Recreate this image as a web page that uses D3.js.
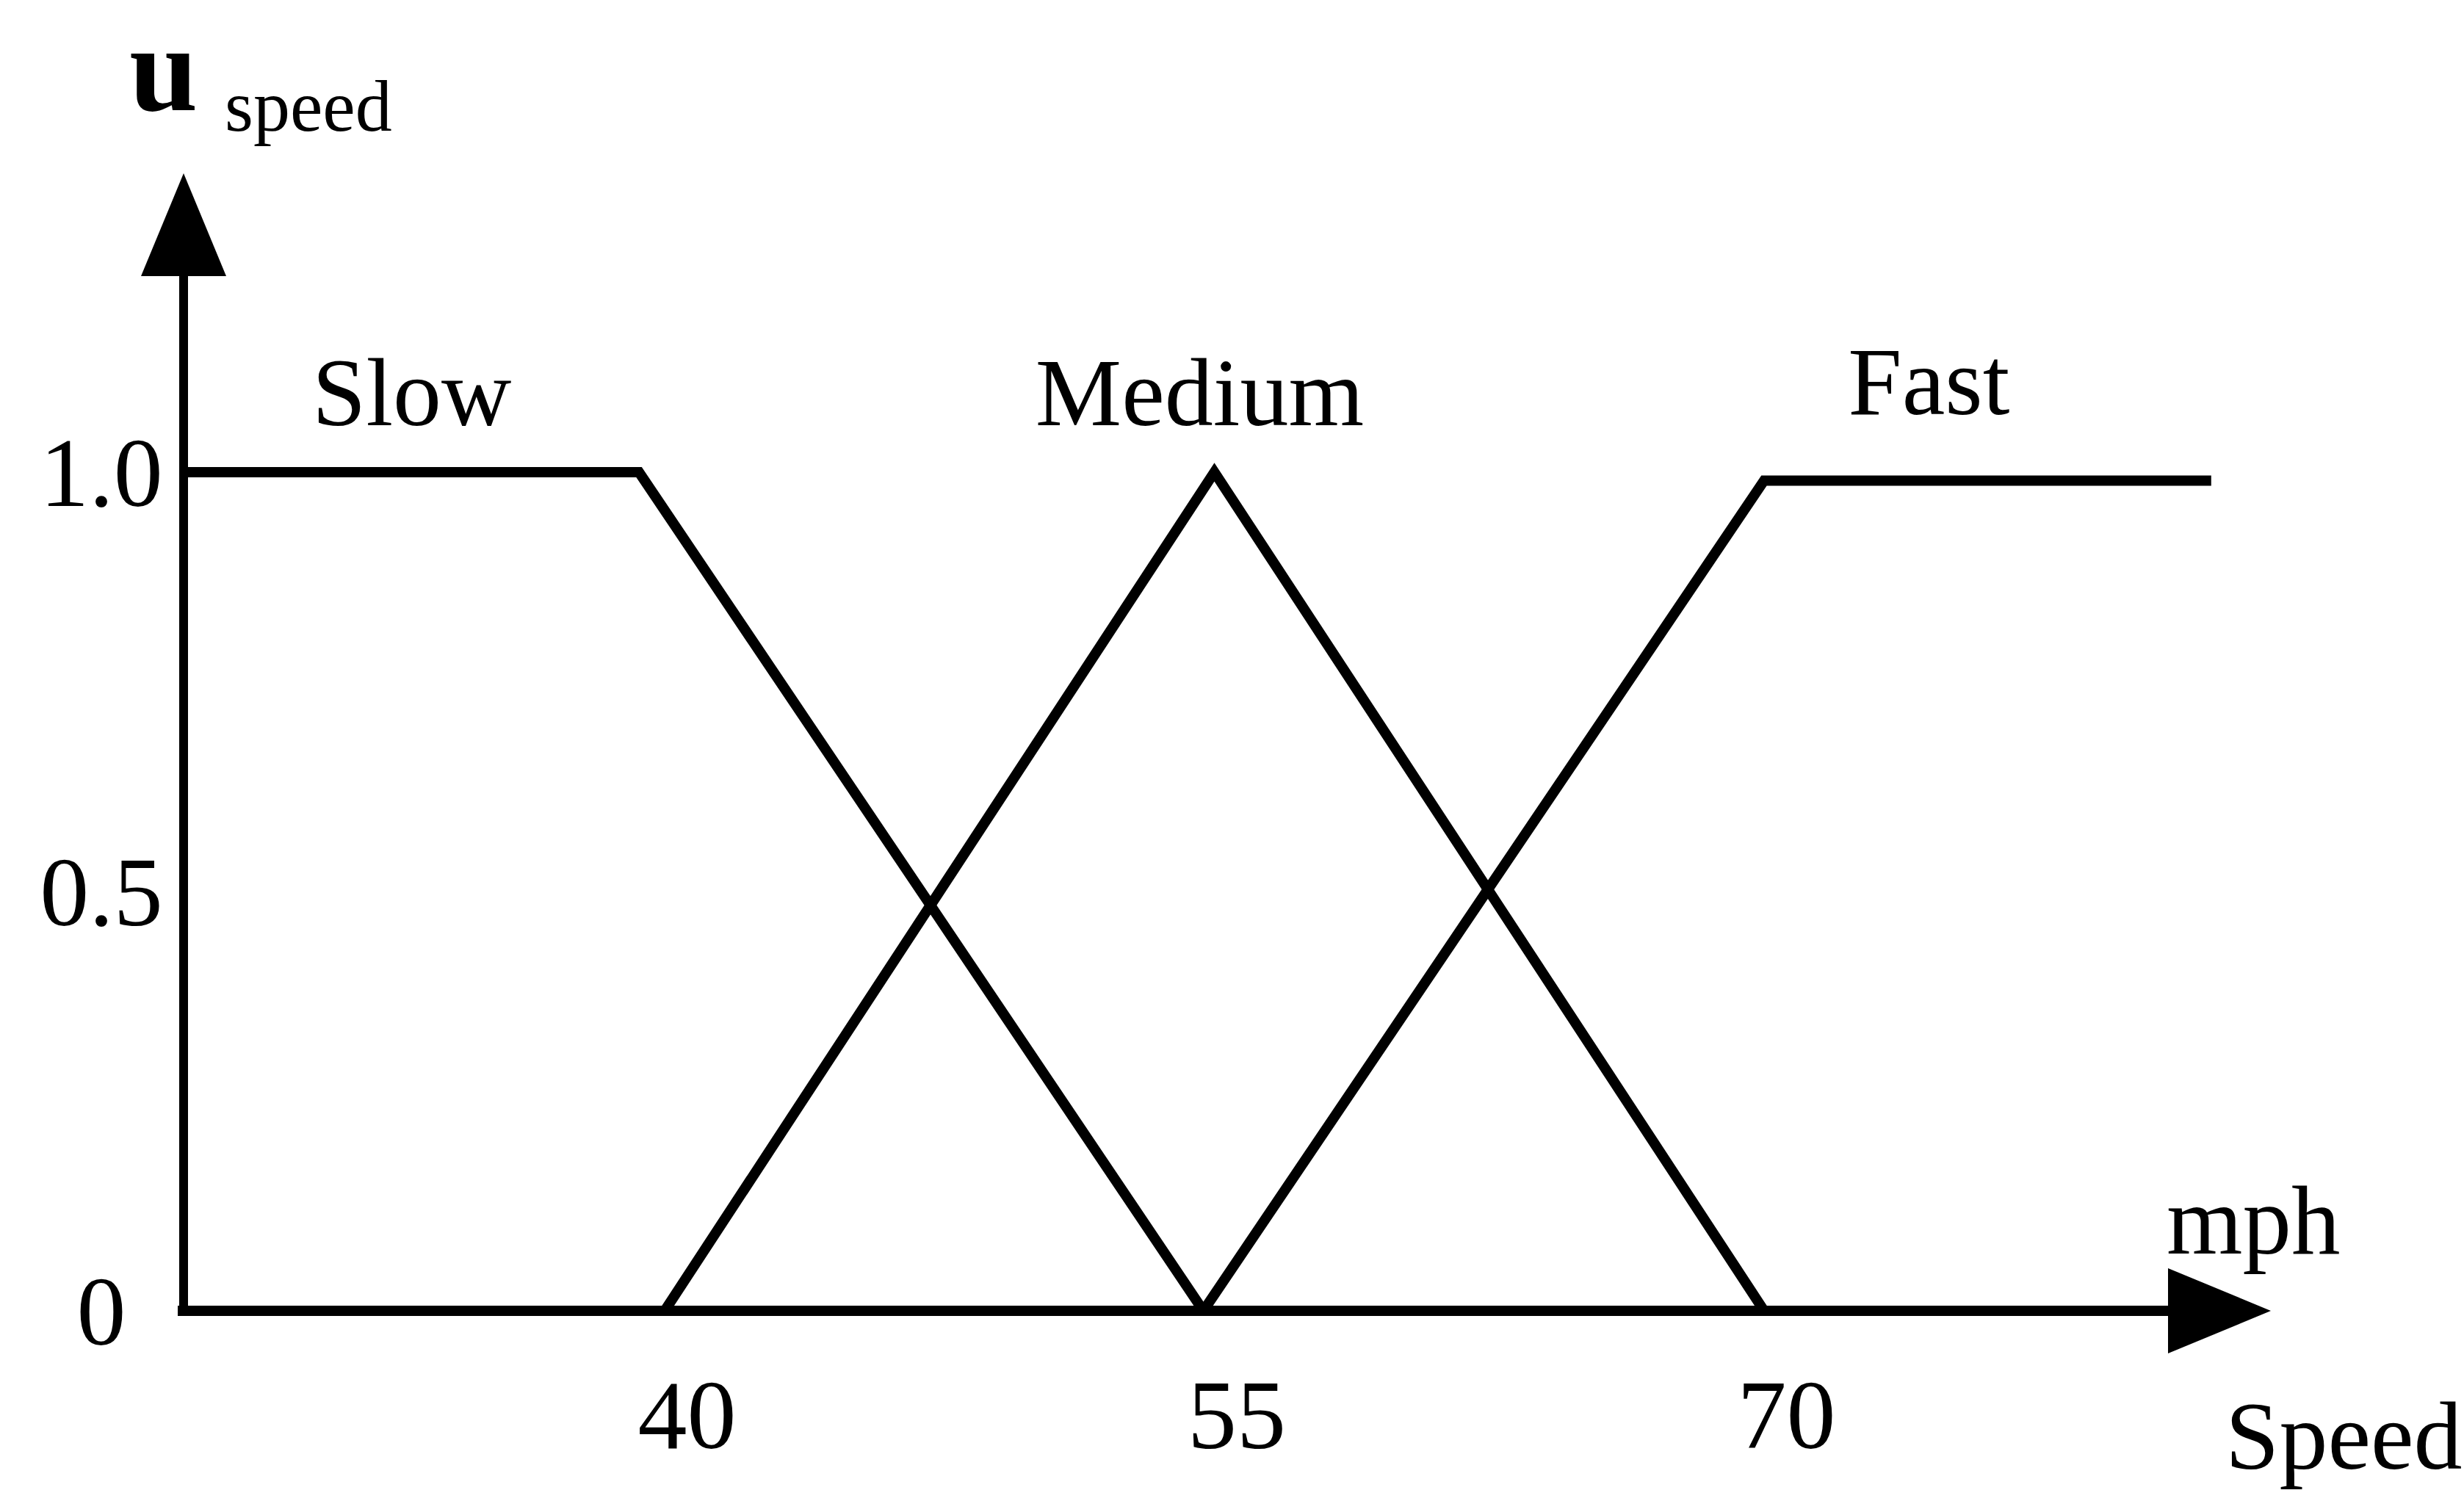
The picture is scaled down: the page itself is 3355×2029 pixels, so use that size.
<html>
<head>
<style>
body { margin: 0; background: #fff; }
text { font-family: 'Liberation Serif', 'Times New Roman', serif; fill: #000; }
</style>
</head>
<body>

<svg></svg>

<script src="https://d3js.org/d3.v7.min.js"></script>
<script>

// membership functions (speed in mph, degree 0..1)
const slowPoints = [[26.9, 1], [39.3, 1], [54.7, 0]];
const mediumPoints = [[40, 0], [55, 1], [70, 0]];
const fastPoints = [[54.7, 0], [70, 0.99], [82.2, 0.99]];

const seriesNames = ['Slow', 'Medium', 'Fast'];
const seriesPoints = [slowPoints, mediumPoints, fastPoints];

const xTickValues = [40, 55, 70];
const xTickLabels = ['40', '55', '70'];
const yTickValues = [0, 0.5, 1];
const yTickLabels = ['0', '0.5', '1.0'];

const width = 3355;
const height = 2029;
const stroke = 14;

// layout of the hand drawn axes
const originX = 250;
const originY = 1785;
const yArrowTip = 236;
const xArrowTip = 3092;
const arrowLength = 140;
const arrowHalf = 58;

const x = d3.scaleLinear()
    .domain([40, 70])
    .range([905, 2402]);

const y = d3.scaleLinear()
    .domain([0, 1])
    .range([originY, 643]);

const svg = d3.select('svg')
    .attr('width', width)
    .attr('height', height);

svg.append('rect')
    .attr('width', width)
    .attr('height', height)
    .attr('fill', '#fff');

// axes with arrow heads
const axes = svg.append('g').attr('class', 'axes');

axes.append('line')
    .attr('x1', originX).attr('y1', originY + stroke / 2)
    .attr('x2', originX).attr('y2', yArrowTip + arrowLength)
    .attr('stroke', '#000')
    .attr('stroke-width', stroke - 2);

axes.append('line')
    .attr('x1', originX - 8).attr('y1', originY)
    .attr('x2', xArrowTip - arrowLength).attr('y2', originY)
    .attr('stroke', '#000')
    .attr('stroke-width', stroke);

axes.append('path')
    .attr('d', `M${originX},${yArrowTip} L${originX + arrowHalf},${yArrowTip + arrowLength} L${originX - arrowHalf},${yArrowTip + arrowLength} Z`)
    .attr('fill', '#000');

axes.append('path')
    .attr('d', `M${xArrowTip},${originY} L${xArrowTip - arrowLength},${originY - arrowHalf} L${xArrowTip - arrowLength},${originY + arrowHalf} Z`)
    .attr('fill', '#000');

// tick labels, no tick marks
const yAxis = svg.append('g')
    .attr('transform', 'translate(138,0)')
    .call(d3.axisLeft(y)
        .tickValues(yTickValues)
        .tickFormat((d, i) => yTickLabels[i])
        .tickSize(0)
        .tickPadding(0));

yAxis.select('.domain').remove();
yAxis.selectAll('text')
    .attr('x', 0)
    .attr('dy', '0.34em')
    .attr('text-anchor', 'middle')
    .style('font-family', "'Liberation Serif', serif")
    .style('font-size', '134px');

const xAxis = svg.append('g')
    .attr('transform', 'translate(30,1972)')
    .call(d3.axisBottom(x)
        .tickValues(xTickValues)
        .tickFormat((d, i) => xTickLabels[i])
        .tickSize(0)
        .tickPadding(0));

xAxis.select('.domain').remove();
xAxis.selectAll('text')
    .attr('y', 0)
    .attr('dy', 0)
    .style('font-family', "'Liberation Serif', serif")
    .style('font-size', '134px');

// membership lines
const line = d3.line()
    .x(d => x(d[0]))
    .y(d => y(d[1]));

svg.append('g').attr('class', 'series')
    .selectAll('path')
    .data(seriesPoints)
    .join('path')
        .attr('d', line)
        .attr('fill', 'none')
        .attr('stroke', '#000')
        .attr('stroke-width', stroke)
        .attr('stroke-linejoin', 'miter');

// series names above the top of each shape
function topMid(points) {
    const top = d3.max(points, d => d[1]);
    const xs = points.filter(d => d[1] === top).map(d => d[0]);
    return [d3.mean(xs), top];
}

svg.append('g').attr('class', 'names')
    .selectAll('text')
    .data(seriesNames)
    .join('text')
        .attr('x', (d, i) => x(topMid(seriesPoints[i])[0]) - (i === 2 ? 80 : i === 1 ? 20 : 0))
        .attr('y', (d, i) => y(topMid(seriesPoints[i])[1]) - 64 - (i === 2 ? 26 : 0))
        .attr('text-anchor', 'middle')
        .style('font-size', '132px')
        .text(d => d);

// axis titles
const uTitle = svg.append('text')
    .attr('x', 176)
    .attr('y', 150);
uTitle.append('tspan')
    .style('font-size', '168px')
    .style('font-weight', 'bold')
    .text('u');
uTitle.append('tspan')
    .attr('x', 306)
    .attr('y', 178)
    .style('font-size', '100px')
    .text('speed');

svg.append('text')
    .attr('x', 2950)
    .attr('y', 1707)
    .style('font-size', '133px')
    .text('mph');

svg.append('text')
    .attr('x', 3030)
    .attr('y', 2000)
    .style('font-size', '132px')
    .text('Speed');

</script>
</body>
</html>
